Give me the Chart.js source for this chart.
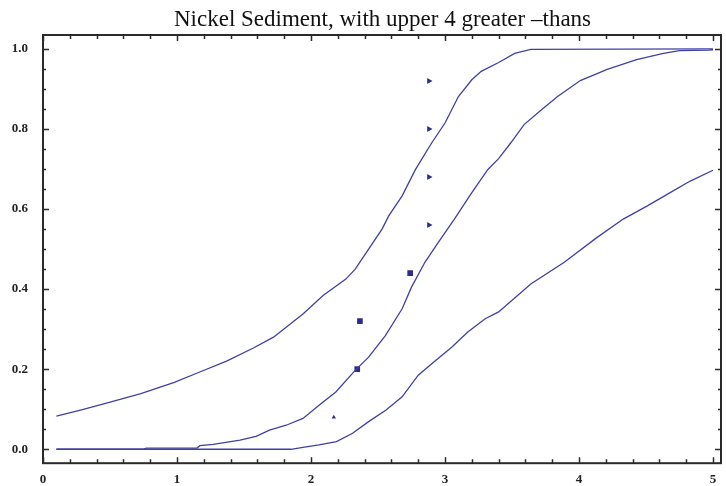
<!DOCTYPE html>
<html>
<head>
<meta charset="utf-8">
<script src="https://cdn.jsdelivr.net/npm/chart.js@4"></script>
<style>
  body { margin: 0; background: #fff; }
</style>
</head>
<body>
<canvas id="chart" width="726" height="486"></canvas>
<script>
// curves
const upperX = [0.10, 0.28, 0.48, 0.73, 0.98, 1.17, 1.37, 1.57, 1.72, 1.94, 2.09, 2.26, 2.33, 2.43, 2.53, 2.58, 2.68, 2.78, 2.90, 3.00, 3.10, 3.20, 3.27, 3.40, 3.52, 3.64, 5.00];
const upperY = [0.083, 0.098, 0.116, 0.139, 0.167, 0.193, 0.220, 0.253, 0.280, 0.338, 0.384, 0.425, 0.450, 0.500, 0.550, 0.583, 0.633, 0.699, 0.765, 0.815, 0.881, 0.923, 0.944, 0.966, 0.989, 0.999, 1.000];

const middleX = [0.10, 0.75, 0.77, 1.15, 1.17, 1.27, 1.47, 1.59, 1.69, 1.815, 1.94, 2.06, 2.185, 2.33, 2.43, 2.555, 2.68, 2.75, 2.85, 2.95, 3.07, 3.20, 3.32, 3.40, 3.49, 3.59, 3.72, 3.84, 4.01, 4.21, 4.43, 4.63, 4.75, 4.97, 5.00];
const middleY = [0, 0, 0.003, 0.003, 0.009, 0.012, 0.023, 0.032, 0.048, 0.060, 0.077, 0.110, 0.143, 0.197, 0.230, 0.284, 0.351, 0.405, 0.467, 0.517, 0.575, 0.641, 0.699, 0.726, 0.765, 0.811, 0.848, 0.881, 0.921, 0.949, 0.973, 0.989, 0.996, 0.997, 0.998];

const lowerX = [0.10, 1.85, 1.94, 2.06, 2.19, 2.31, 2.43, 2.56, 2.68, 2.80, 2.93, 3.05, 3.17, 3.30, 3.40, 3.64, 3.89, 4.13, 4.33, 4.51, 4.68, 4.83, 5.00];
const lowerY = [0, 0, 0.005, 0.011, 0.019, 0.040, 0.069, 0.098, 0.131, 0.185, 0.222, 0.255, 0.293, 0.326, 0.343, 0.413, 0.467, 0.528, 0.575, 0.608, 0.641, 0.670, 0.697];

// observations
const squareX = [2.345, 2.365, 2.74];
const squareY = [0.20, 0.32, 0.44];
const greaterX = [2.88, 2.88, 2.88, 2.88];
const greaterY = [0.56, 0.68, 0.80, 0.92];
const lowX = [2.17];
const lowY = [0.08];

const xTicks = [0, 1, 2, 3, 4, 5];
const yTicks = [0, 0.2, 0.4, 0.6, 0.8, 1.0];

const lineColor = "#4040a4";
const pointColor = "#2c2c8e";
const frameColor = "#2a2a2a";
const serif = "'Liberation Serif', 'DejaVu Serif', serif";

function pts(xs, ys) {
    return xs.map((x, i) => ({ x: x, y: ys[i] }));
}

function curve(xs, ys) {
    return {
        type: "line",
        data: pts(xs, ys),
        borderColor: lineColor,
        borderWidth: 1.3,
        pointRadius: 0,
        fill: false,
        tension: 0
    };
}

// frame with inward ticks on all four sides
const framePlugin = {
    id: "frame",
    afterDraw(chart) {
        const ctx = chart.ctx;
        const a = chart.chartArea;
        const xs = chart.scales.x, ys = chart.scales.y;
        ctx.save();
        ctx.strokeStyle = frameColor;
        ctx.lineWidth = 2;
        ctx.strokeRect(a.left, a.top, a.right - a.left - 1, a.bottom - a.top);
        ctx.lineWidth = 1.5;
        ctx.beginPath();
        for (let i = 0; i <= 25; i++) {
            const v = i * 0.2;
            const px = Math.round(xs.getPixelForValue(v)) + 0.5;
            const len = (i % 5 === 0) ? 6 : 4;
            ctx.moveTo(px, a.bottom); ctx.lineTo(px, a.bottom - len);
            ctx.moveTo(px, a.top); ctx.lineTo(px, a.top + len);
        }
        for (let i = 0; i <= 20; i++) {
            const v = i * 0.05;
            const py = Math.round(ys.getPixelForValue(v)) + 0.5;
            const len = (i % 4 === 0) ? 6 : 3;
            ctx.moveTo(a.left, py); ctx.lineTo(a.left + len, py);
            ctx.moveTo(a.right - 1, py); ctx.lineTo(a.right - 1 - len, py);
        }
        ctx.stroke();
        ctx.restore();
    }
};

new Chart(document.getElementById("chart").getContext("2d"), {
    type: "scatter",
    data: {
        datasets: [
            curve(upperX, upperY),
            curve(middleX, middleY),
            curve(lowerX, lowerY),
            {
                data: pts(squareX, squareY),
                pointStyle: "rect",
                pointRadius: 4,
                backgroundColor: pointColor,
                borderColor: pointColor,
                borderWidth: 0
            },
            {
                data: pts(greaterX, greaterY),
                pointStyle: "triangle",
                rotation: 90,
                pointRadius: 3.5,
                backgroundColor: pointColor,
                borderColor: pointColor,
                borderWidth: 0
            },
            {
                data: pts(lowX, lowY),
                pointStyle: "triangle",
                rotation: 120,
                pointRadius: 2.5,
                backgroundColor: pointColor,
                borderColor: pointColor,
                borderWidth: 0
            }
        ]
    },
    options: {
        responsive: false,
        devicePixelRatio: 1,
        animation: false,
        layout: { padding: 0 },
        plugins: {
            legend: { display: false },
            tooltip: { enabled: false },
            title: {
                display: true,
                fullSize: false,
                text: "Nickel Sediment, with upper 4 greater \u2013thans",
                color: "#111",
                font: { family: serif, size: 23, weight: "normal", lineHeight: 1.2 },
                padding: { top: 6.5, bottom: 0.9 }
            }
        },
        scales: {
            x: {
                type: "linear",
                min: 0,
                max: 5.067,
                afterBuildTicks: s => { s.ticks = xTicks.map(v => ({ value: v })); },
                afterFit: s => { s.height = 21; },
                grid: { display: false, drawTicks: false },
                border: { display: false },
                ticks: {
                    padding: 9,
                    color: "#222",
                    maxRotation: 0,
                    font: { family: serif, size: 13, weight: "bold" },
                    callback: v => String(v)
                }
            },
            y: {
                type: "linear",
                min: -0.0348,
                max: 1.0348,
                afterBuildTicks: s => { s.ticks = yTicks.map(v => ({ value: v })); },
                afterFit: s => { s.width = 43; },
                grid: { display: false, drawTicks: false },
                border: { display: false },
                ticks: {
                    padding: 15,
                    color: "#222",
                    font: { family: serif, size: 13, weight: "bold" },
                    callback: v => Number(v).toFixed(1)
                }
            }
        }
    },
    plugins: [framePlugin]
});
</script>
</body>
</html>
